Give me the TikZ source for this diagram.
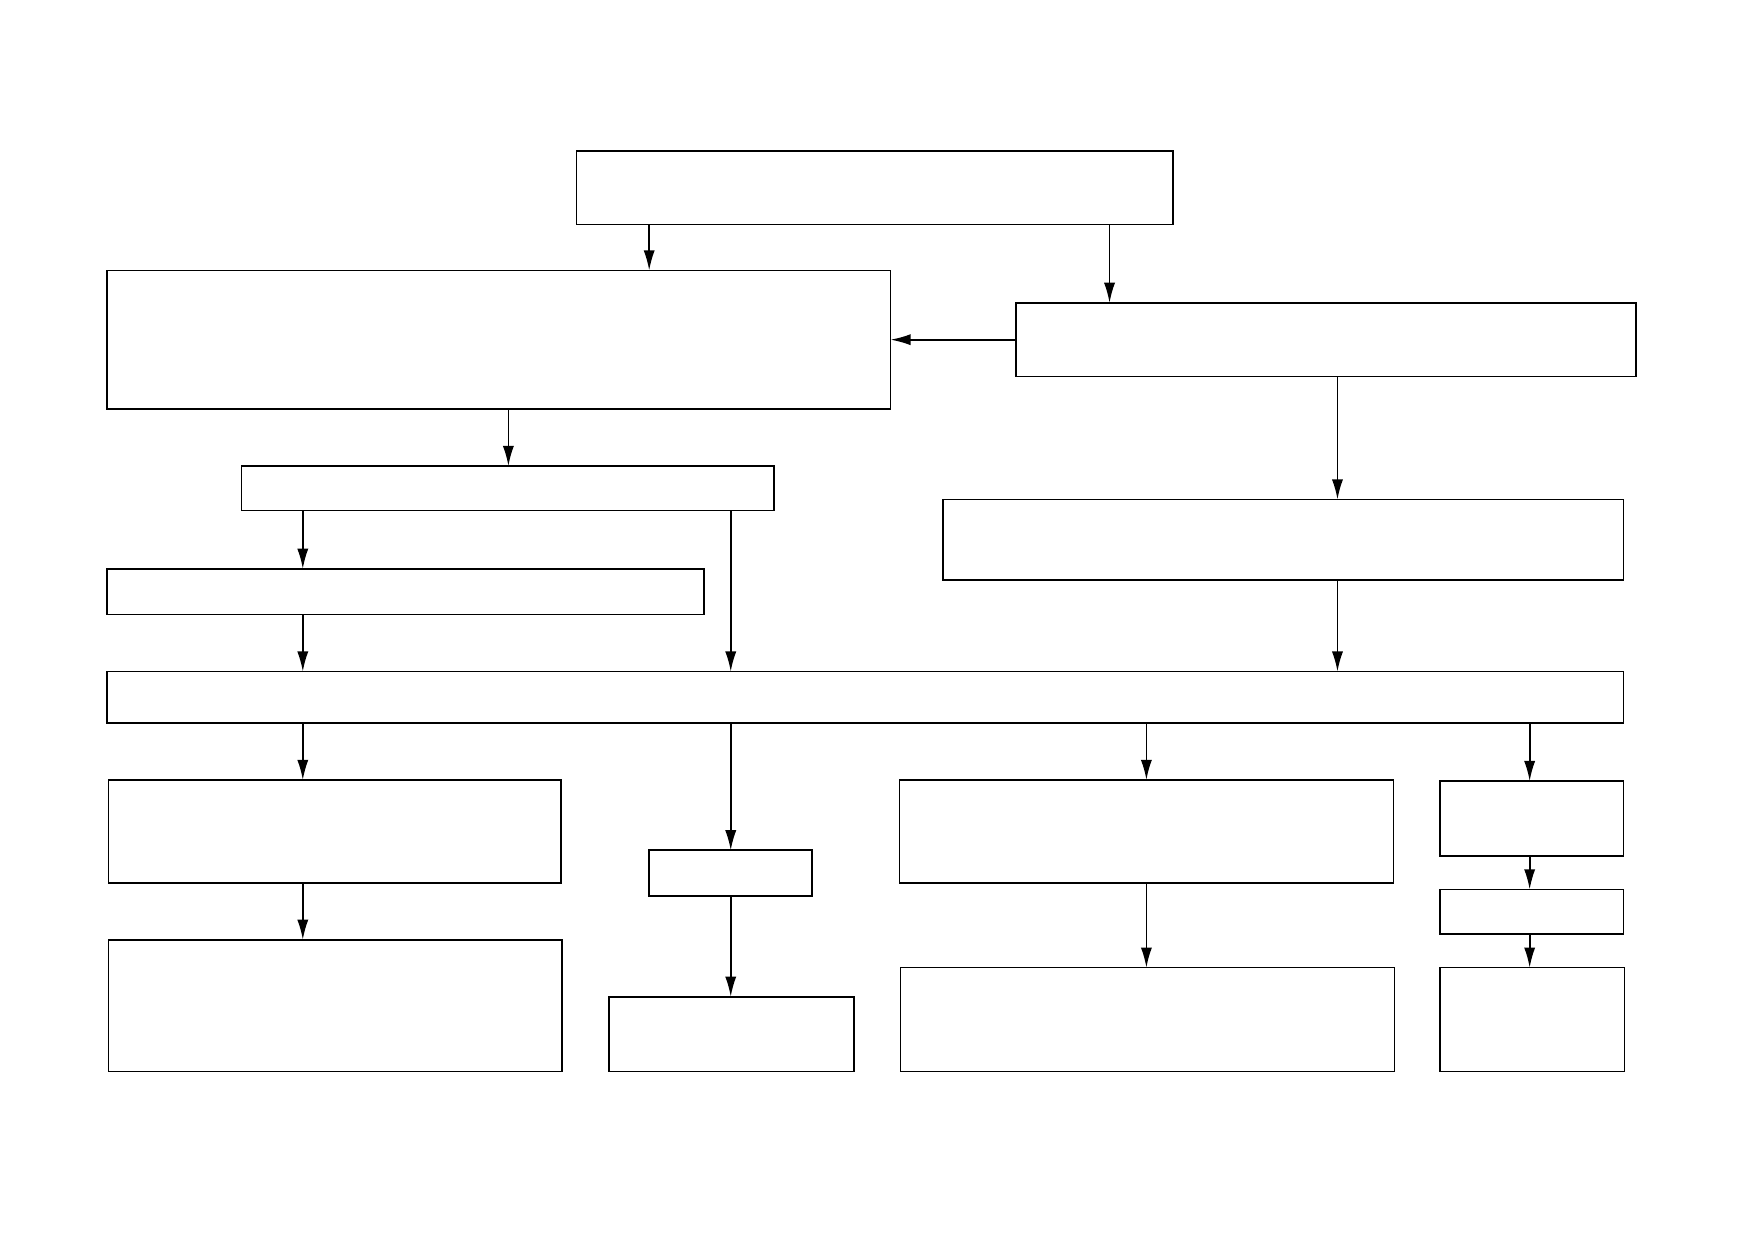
\documentclass[tikz,border=0pt]{standalone}
\usetikzlibrary{arrows.meta}
\tikzset{
  box/.style={draw=black, line width=0.75pt, fill=white, rectangle, inner sep=0pt, outer sep=0pt, anchor=north west},
  arr/.style={draw=black, line width=0.75pt, -{Latex[length=9pt,width=5pt]}}
}
\newcommand\mybox[5]{\node[box, minimum width={(#4-#2)*0.5pt}, minimum height={(#5-#3)*0.5pt}] (#1) at (#2,-#3) {};}
\begin{document}
\begin{tikzpicture}[x=0.5pt,y=0.5pt]
\useasboundingbox[fill=white] (0,0) rectangle (1568,-1109);
\mybox{A}{516}{135}{1050}{201}
\mybox{B}{96}{242}{797}{366}
\mybox{C}{909}{271}{1464}{337}
\mybox{D}{216}{417}{693}{457}
\mybox{E}{844}{447}{1453}{519}
\mybox{F}{96}{509}{630}{550}
\mybox{G}{96}{601}{1453}{647}
\mybox{H}{97}{698}{502}{790}
\mybox{I}{581}{761}{727}{802}
\mybox{J}{805}{698}{1247}{790}
\mybox{K}{1289}{699}{1453}{766}
\mybox{L}{1289}{796}{1453}{836}
\mybox{M}{97}{841}{503}{959}
\mybox{N}{545}{892}{764}{959}
\mybox{O}{806}{866}{1248}{959}
\mybox{P}{1289}{866}{1454}{959}
% connectors
\draw[arr] (581,0 |- A.south) -- (581,0 |- B.north);
\draw[arr] (993,0 |- A.south) -- (993,0 |- C.north);
\draw[arr] (C.west |- 0,-304) -- (B.east |- 0,-304);
\draw[arr] (455,0 |- B.south) -- (455,0 |- D.north);
\draw[arr] (1197,0 |- C.south) -- (1197,0 |- E.north);
\draw[arr] (271,0 |- D.south) -- (271,0 |- F.north);
\draw[arr] (654,0 |- D.south) -- (654,0 |- G.north);
\draw[arr] (271,0 |- F.south) -- (271,0 |- G.north);
\draw[arr] (1197,0 |- E.south) -- (1197,0 |- G.north);
\draw[arr] (271,0 |- G.south) -- (271,0 |- H.north);
\draw[arr] (654,0 |- G.south) -- (654,0 |- I.north);
\draw[arr] (1026,0 |- G.south) -- (1026,0 |- J.north);
\draw[arr] (1369,0 |- G.south) -- (1369,0 |- K.north);
\draw[arr] (271,0 |- H.south) -- (271,0 |- M.north);
\draw[arr] (654,0 |- I.south) -- (654,0 |- N.north);
\draw[arr] (1026,0 |- J.south) -- (1026,0 |- O.north);
\draw[arr] (1369,0 |- K.south) -- (1369,0 |- L.north);
\draw[arr] (1369,0 |- L.south) -- (1369,0 |- P.north);
\end{tikzpicture}
\end{document}
